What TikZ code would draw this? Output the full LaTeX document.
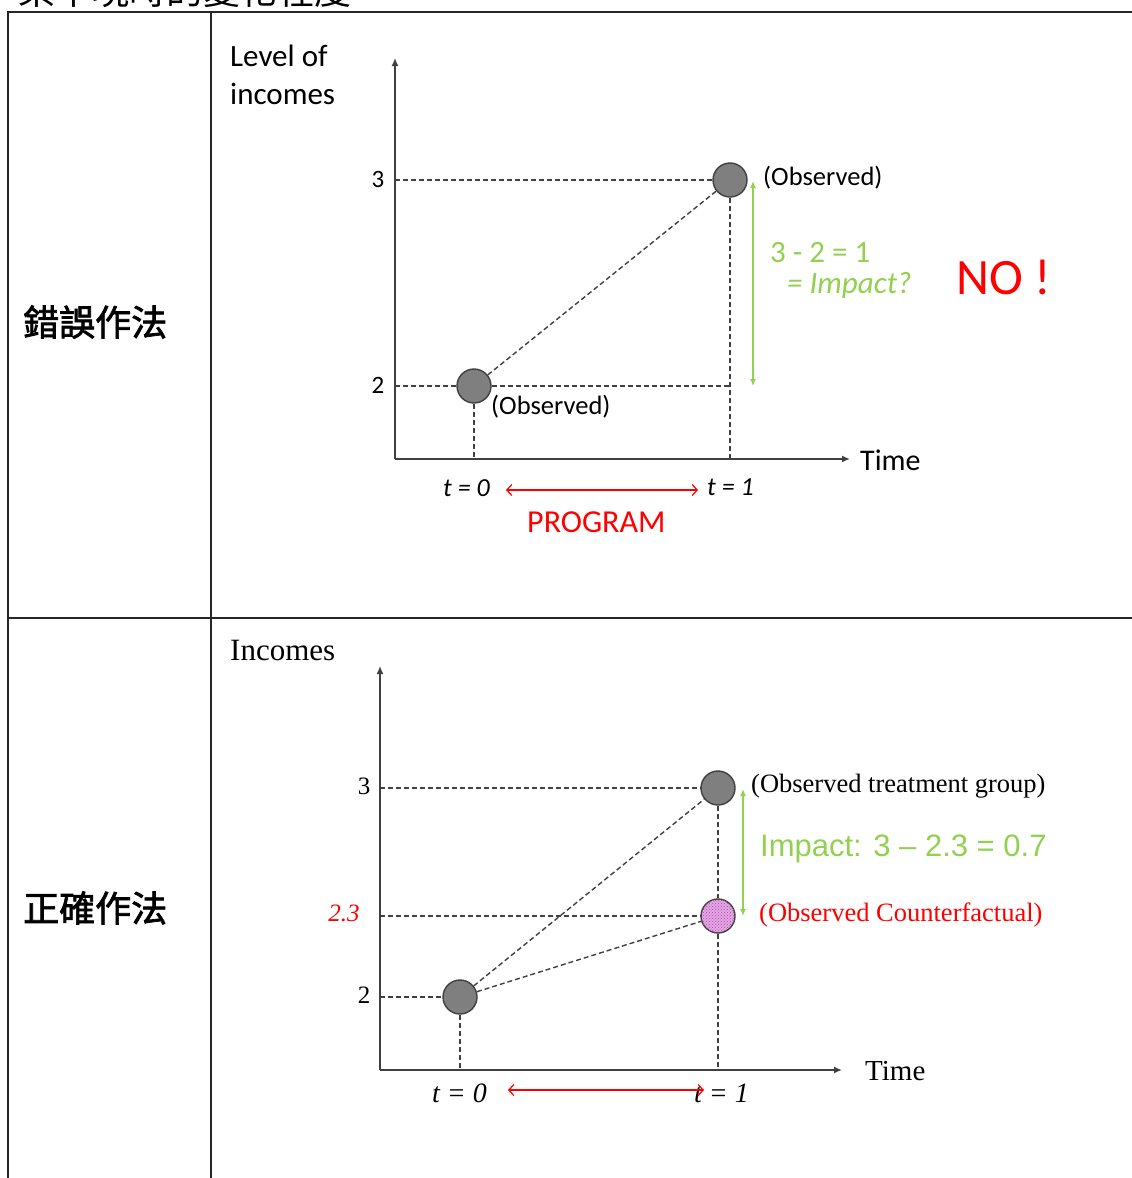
\documentclass[tikz,border=0pt]{standalone}
\usepackage{fontspec}
\setmainfont{Liberation Serif}
\newfontfamily\calf{Carlito}
\newfontfamily\arialf{Liberation Sans}
\newfontfamily\cjkf[FakeBold=2]{Noto Sans CJK TC}
\newfontfamily\cjkt{Noto Sans CJK TC}
\usetikzlibrary{arrows.meta,patterns}
\definecolor{gr}{HTML}{92D050}
\definecolor{dk}{HTML}{404040}
\definecolor{dotg}{HTML}{7F7F7F}
\definecolor{pk}{HTML}{E6A6E6}
\begin{document}
\begin{tikzpicture}[x=1pt,y=-1pt,
  frame/.style={line width=1.6pt,black!85},
  axisline/.style={line width=1.5pt,dk,-{Latex[length=8pt,width=7pt]}},
  dline/.style={line width=1.4pt,dk,dash pattern=on 5pt off 3pt},
  garrow/.style={line width=1.8pt,gr,{Latex[length=7pt,width=6pt]}-{Latex[length=7pt,width=6pt]}},
  rarrow/.style={line width=1.2pt,red,{Straight Barb[length=5pt,width=11pt]}-{Straight Barb[length=5pt,width=11pt]}},
  dotn/.style={circle,draw=dk,line width=1.4pt,fill=dotg,minimum size=34pt,inner sep=0pt},
  cfdot/.style={circle,draw=dk,line width=1.4pt,fill=pk,minimum size=34pt,inner sep=0pt,
     postaction={pattern=crosshatch dots,pattern color=violet!70}},
  lab/.style={inner sep=0pt,anchor=west},
  cal/.style={lab,font=\calf\fontsize{26.5}{31}\selectfont},
  tms/.style={lab,font=\fontsize{26.5}{31}\selectfont}
]
\useasboundingbox (0,0) rectangle (1132,1178);
% cut-off heading
\begin{scope}
\clip (0,0) rectangle (1132,1178);
\node[inner sep=0pt,anchor=base west,font=\cjkt\fontsize{37}{40}\selectfont] (head) at (18,4) {某平現時的變化程度};
\end{scope}
% table frame
\coordinate (tl) at (8,12); \coordinate (tr) at (1132,12);
\coordinate (bl) at (8,1178); \coordinate (ml) at (8,618); \coordinate (mr) at (1132,618);
\coordinate (dt) at (211,12); \coordinate (db) at (211,1178);
\draw[frame] (tr) -- (tl) -- (bl);
\draw[frame] (ml) -- (mr);
\draw[frame] (dt) -- (db);
\node[lab,font=\cjkf\fontsize{36}{40}\selectfont] (wrong) at (23,322) {錯誤作法};
\node[lab,font=\cjkf\fontsize{36}{40}\selectfont] (right) at (23,908) {正確作法};

% ---------- top chart ----------
\coordinate (o1) at (395,459);
\coordinate (ytop1) at (395,58);
\coordinate (xend1) at (850,459);
\draw[axisline] (o1) -- (ytop1);
\draw[axisline] (o1) -- (xend1);
\node[dotn] (a0) at (474,386) {};
\node[dotn] (a1) at (730,180) {};
\coordinate (y3a) at (395,180); \coordinate (y2a) at (395,386);
\coordinate (x0a) at (474,459); \coordinate (x1a) at (730,459);
\coordinate (ca) at (730,386);
\draw[dline] (y3a) -- (a1.west);
\draw[dline] (y2a) -- (a0.west);
\draw[dline] (a0.east) -- (ca);
\draw[dline] (a0.south) -- (x0a);
\draw[dline] (a1.south) -- (x1a);
\draw[dline] (a0) -- (a1);
\coordinate (ga1) at (753,181); \coordinate (ga2) at (753,386);
\draw[garrow] (ga1) -- (ga2);
\node[inner sep=0pt,font=\calf\fontsize{25}{30}\selectfont] (t3) at (378,179) {3};
\node[inner sep=0pt,font=\calf\fontsize{25}{30}\selectfont] (t2) at (378,385) {2};
\node[inner sep=0pt,anchor=north west,align=left,font=\calf\fontsize{31}{38}\selectfont] (ylab1) at (230,45) {Level of\\incomes};
\node[cal] (obs1) at (763,178) {(Observed)};
\node[cal] (obs0) at (491,407) {(Observed)};
\node[cal,font=\calf\fontsize{31}{36}\selectfont,text=gr] (eq1) at (770,253) {3 - 2 = 1};
\node[cal,font=\calf\itshape\fontsize{31}{36}\selectfont,text=gr] (eq2) at (787,285) {= Impact?};
\node[cal,font=\calf\fontsize{51}{60}\selectfont,text=red] (no) at (956,277) {NO !};
\node[cal,font=\calf\fontsize{30}{36}\selectfont] (time1) at (860,460) {Time};
\node[cal,font=\calf\itshape\fontsize{26}{31}\selectfont] (t0a) at (443,488) {t = 0};
\node[cal,font=\calf\itshape\fontsize{26}{31}\selectfont] (t1a) at (707,487) {t = 1};
\coordinate (ra1) at (506,490); \coordinate (ra2) at (698,490);
\draw[rarrow] (ra1) -- (ra2);
\node[cal,font=\calf\fontsize{32}{38}\selectfont,text=red] (prog) at (527,522) {PROGRAM};

% ---------- bottom chart ----------
\coordinate (o2) at (380,1070);
\coordinate (ytop2) at (380,666);
\coordinate (xend2) at (842,1070);
\draw[axisline] (o2) -- (ytop2);
\draw[axisline] (o2) -- (xend2);
\node[dotn] (b0) at (460,997) {};
\node[dotn] (b1) at (718,788) {};
\node[cfdot] (bc) at (718,916) {};
\coordinate (y3b) at (380,788); \coordinate (y23b) at (380,916); \coordinate (y2b) at (380,997);
\coordinate (x0b) at (460,1070); \coordinate (x1b) at (718,1070);
\draw[dline] (y3b) -- (b1.west);
\draw[dline] (y23b) -- (bc.west);
\draw[dline] (y2b) -- (b0.west);
\draw[dline] (b0.south) -- (x0b);
\draw[dline] (b1.south) -- (bc.north);
\draw[dline] (bc.south) -- (x1b);
\draw[dline] (b0) -- (b1);
\draw[dline] (b0) -- (bc);
\coordinate (gb1) at (743,789); \coordinate (gb2) at (743,916);
\draw[garrow] (gb1) -- (gb2);
\node[inner sep=0pt,font=\fontsize{25}{30}\selectfont] (s3) at (364,786) {3};
\node[inner sep=0pt,font=\itshape\fontsize{25}{30}\selectfont,text=red] (s23) at (344,913) {2.3};
\node[inner sep=0pt,font=\fontsize{25}{30}\selectfont] (s2) at (364,995) {2};
\node[tms,font=\fontsize{31}{36}\selectfont] (ylab2) at (230,650) {Incomes};
\node[tms] (obtr) at (751,786) {(Observed treatment group)};
\node[lab,font=\arialf\fontsize{31}{36}\selectfont,text=gr] (imp) at (760,849) {Impact: 3 – 2.3 = 0.7};
\node[tms,text=red] (obcf) at (759,915) {(Observed Counterfactual)};
\node[tms,font=\fontsize{29}{34}\selectfont] (time2) at (865,1071) {Time};
\node[tms,font=\itshape\fontsize{28}{33}\selectfont] (t0b) at (432,1093) {t = 0};
\node[tms,font=\itshape\fontsize{28}{33}\selectfont] (t1b) at (694,1093) {t = 1};
\coordinate (rb1) at (508,1090); \coordinate (rb2) at (704,1090);
\draw[rarrow] (rb1) -- (rb2);
\end{tikzpicture}
\end{document}
